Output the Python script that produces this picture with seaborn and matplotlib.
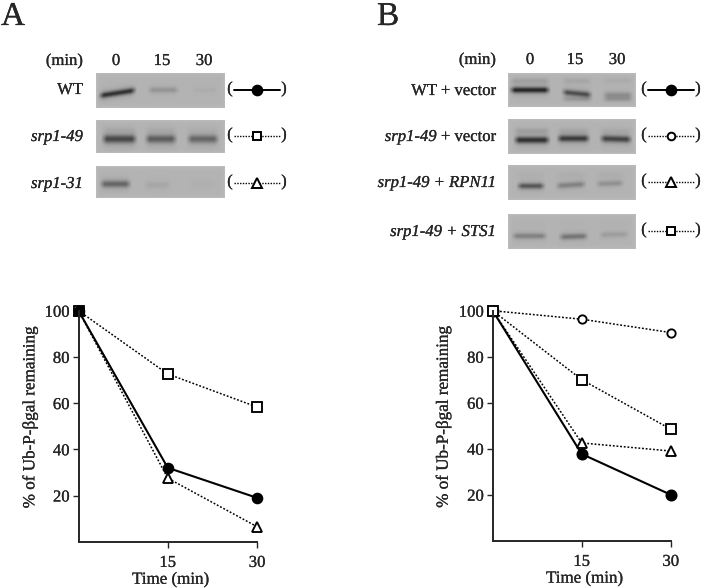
import numpy as np
import seaborn as sns
import matplotlib
matplotlib.use("Agg")
import matplotlib.pyplot as plt
import matplotlib.patheffects as pe
from matplotlib.text import Text

sns.set_style("ticks")
plt.rcParams["font.family"] = ["Liberation Serif", "DejaVu Serif"]
plt.rcParams["font.size"] = 12

W, H = 703, 588

times = [0, 15, 30]
lane_labels = ["0", "15", "30"]
y_ticks = [20, 40, 60, 80, 100]

# panel A curves
a_wt = [100, 32, 19]
a_srp49 = [100, 72.6, 58.3]
a_srp31 = [100, 27.5, 6.5]

# panel B curves
b_wt = [100, 37.7, 20]
b_vector = [100, 96.3, 90.5]
b_rpn11 = [100, 42.5, 39]
b_sts1 = [100, 70, 48.5]

# band darkness per lane: main band, faint upper band, faint lower band
gel_a_wt = [[0.42, 0.10, 0.02], [0, 0, 0], [0, 0, 0]]
gel_a_49 = [[0.35, 0.28, 0.25], [0.03, 0.025, 0.01], [0, 0, 0]]
gel_a_31 = [[0.25, 0.04, 0.012], [0, 0, 0], [0, 0, 0]]
gel_b_wt = [[0.46, 0.33, 0.12], [0.07, 0.05, 0.03], [0, 0.09, 0.11]]
gel_b_49 = [[0.42, 0.39, 0.36], [0.07, 0.04, 0.03], [0, 0, 0]]
gel_b_rpn = [[0.30, 0.16, 0.11], [0.015, 0.02, 0.02], [0, 0, 0]]
gel_b_sts = [[0.16, 0.20, 0.07], [0.005, 0.005, 0.005], [0, 0, 0]]


def draw_gel(box, darkness, lanes, main_y, upper_y, thick, lower_y=0):
    # box is left, top, right, bottom in pixels
    x0, y0, x1, y1 = box
    ax = fig.add_axes([x0 / W, 1 - y1 / H, (x1 - x0) / W, (y1 - y0) / H])
    xs = np.arange(x0, x1) + 0.5
    ys = np.arange(y0, y1) + 0.5
    xx, yy = np.meshgrid(xs, ys)
    img = np.full(xx.shape, 0.70)
    # paler rim like a scanned film strip
    rim = np.minimum(np.minimum(xx - x0, x1 - xx), np.minimum(yy - y0, y1 - yy))
    img += 0.04 * np.exp(-rim / 1.5)
    for i, (l, r) in enumerate(lanes):
        edge = np.clip((xx - l) / 6, 0, 1) * np.clip((r - xx) / 6, 0, 1)
        slope = (main_y[i][1] - main_y[i][0]) * (xx - l) / (r - l)
        img -= darkness[0][i] * edge * np.exp(-((yy - main_y[i][0] - slope) / thick) ** 2)
        img -= 0.2 * darkness[0][i] * edge * np.exp(-((yy - main_y[i][0] - slope) / (thick * 2)) ** 2)
        img -= darkness[1][i] * edge * np.exp(-((yy - upper_y) / 3) ** 2)
        img -= darkness[2][i] * edge * np.exp(-((yy - lower_y) / 2.5) ** 2)
    sns.heatmap(img, ax=ax, cmap="gray", vmin=0, vmax=1, cbar=False,
                xticklabels=False, yticklabels=False)
    ax.set_xticks([])
    ax.set_yticks([])


def draw_key(cx, y, marker, solid, ms):
    ls = "-" if solid else (0, (1, 1))
    lw = 1.4 if solid else 1.0
    over.plot([cx - 23, cx + 23], [y, y], color="black", lw=lw, ls=ls)
    over.plot([cx], [y], marker=marker, ms=ms,
              mfc="black" if solid else "white", mec="black", mew=1.4)
    over.text(cx - 27, y - 1, "(", ha="center", va="center", fontsize=12)
    over.text(cx + 27, y - 1, ")", ha="center", va="center", fontsize=12)


def draw_curves(box, series, label_x):
    left, top, right, bottom = box
    ax = fig.add_axes([left / W, 1 - bottom / H, (right - left) / W, (bottom - top) / H])
    for values, marker, solid, ms in series:
        sns.lineplot(x=times, y=values, ax=ax, color="black", marker=marker,
                     markersize=ms,
                     markerfacecolor="black" if solid else "white",
                     markeredgecolor="black", markeredgewidth=1.35,
                     linewidth=1.5 if solid else 1.1,
                     linestyle="-" if solid else (0, (1.2, 1.2)),
                     clip_on=False, errorbar=None)
    ax.set_xlim(0, 30)
    ax.set_ylim(0, 100)
    ax.set_xticks([15, 30])
    ax.set_yticks(y_ticks)
    ax.tick_params(labelsize=12, width=1.0, length=4.5, pad=2)
    ax.tick_params(axis="x", pad=5)
    for side in ["left", "bottom"]:
        ax.spines[side].set_linewidth(1.4)
    sns.despine(ax=ax)
    ax.patch.set_alpha(0)
    ax.set_xlabel("Time (min)", fontsize=12.2)
    ax.xaxis.set_label_coords(0.516, -0.13)
    ax.set_ylabel("% of Ub-P-\u03b2gal remaining", fontsize=12.3)
    ax.yaxis.set_label_coords(label_x, 0.54)
    return ax


fig = plt.figure(figsize=(W / 100, H / 100), dpi=100, facecolor="white")

# gels, panel A
a_lanes = [[(98, 137), (147, 180), (191, 219)],
           [(101, 138), (144, 178), (186, 220)],
           [(99, 132), (143, 172), (188, 217)]]
draw_gel((96, 73, 225, 108), gel_a_wt, a_lanes[0], [(96, 90), (90, 90), (90, 90)], 81, 2.8)
draw_gel((96, 120, 225, 153), gel_a_49, a_lanes[1], [(139, 139)] * 3, 130, 4.0)
draw_gel((96, 166, 225, 198), gel_a_31, a_lanes[2], [(184, 184), (185, 185), (184, 184)], 175, 3.4)

# gels, panel B
b_lanes = [[(509, 551), (561, 593), (602, 634)],
           [(513, 551), (556, 591), (599, 633)],
           [(516, 546), (555, 587), (595, 625)],
           [(511, 548), (558, 589), (598, 630)]]
draw_gel((508, 73, 636, 107), gel_b_wt, b_lanes[0], [(90, 90), (92, 95), (95, 95)], 81, 2.8, 99)
draw_gel((508, 119, 636, 154), gel_b_49, b_lanes[1], [(140, 140), (138.5, 138.5), (138.5, 139.5)], 131, 3.2)
draw_gel((508, 165, 636, 200), gel_b_rpn, b_lanes[2], [(186, 186), (186, 184), (184, 183)], 175, 2.8)
draw_gel((508, 214, 636, 249), gel_b_sts, b_lanes[3], [(236, 236), (237, 236), (235, 234)], 224, 2.8)

# overlay in pixel coordinates for the lettering and key samples
over = fig.add_axes([0, 0, 1, 1])
over.set_xlim(0, W)
over.set_ylim(H, 0)
over.axis("off")
over.patch.set_alpha(0)

over.text(1, 25, "A", fontsize=24, ha="left", va="baseline")
over.text(377, 25, "B", fontsize=24, ha="left", va="baseline")

over.text(83, 61, "(min)", ha="right", va="center")
over.text(496, 60, "(min)", ha="right", va="center")
for cx, lab in zip([116, 162, 204], lane_labels):
    over.text(cx, 61, lab, ha="center", va="center")
for cx, lab in zip([530, 575, 617], lane_labels):
    over.text(cx, 60, lab, ha="center", va="center")

over.text(83, 90, "WT", ha="right", va="center")
over.text(83, 137, "srp1-49", ha="right", va="center", style="italic")
over.text(83, 184, "srp1-31", ha="right", va="center", style="italic")

over.text(496, 91, "WT + vector", ha="right", va="center")
t = over.text(496, 137, " + vector", ha="right", va="center")
over.annotate("srp1-49", xy=(0, 0.5), xycoords=t, ha="right", va="center", style="italic")
over.text(496, 183, "srp1-49 + RPN11", ha="right", va="center", style="italic")
over.text(496, 232, "srp1-49 + STS1", ha="right", va="center", style="italic")

draw_key(257, 90, "o", True, 7)
draw_key(257, 136, "s", False, 6)
draw_key(257, 183, "^", False, 6.5)
draw_key(671, 90, "o", True, 7)
draw_key(671, 136, "o", False, 5.5)
draw_key(671, 182, "^", False, 6.5)
draw_key(671, 231, "s", False, 6)

# in panel A the filled circle is smaller than the square it covers at time 0
draw_curves((78.5, 310.7, 257, 541.7),
            [(a_srp31, "^", False, 7), (a_srp49, "s", False, 6.8), (a_wt, "o", True, 7)], -0.225)
draw_curves((492.7, 310.7, 670.7, 540.7),
            [(b_wt, "o", True, 7.3), (b_rpn11, "^", False, 7), (b_vector, "o", False, 6),
             (b_sts1, "s", False, 6.6)], -0.23)

# the printed lettering is a touch heavier than the plain font
for txt in fig.findobj(Text):
    txt.set_path_effects([pe.withStroke(linewidth=0.15, foreground="black")])

fig.savefig("out.png", dpi=100)
